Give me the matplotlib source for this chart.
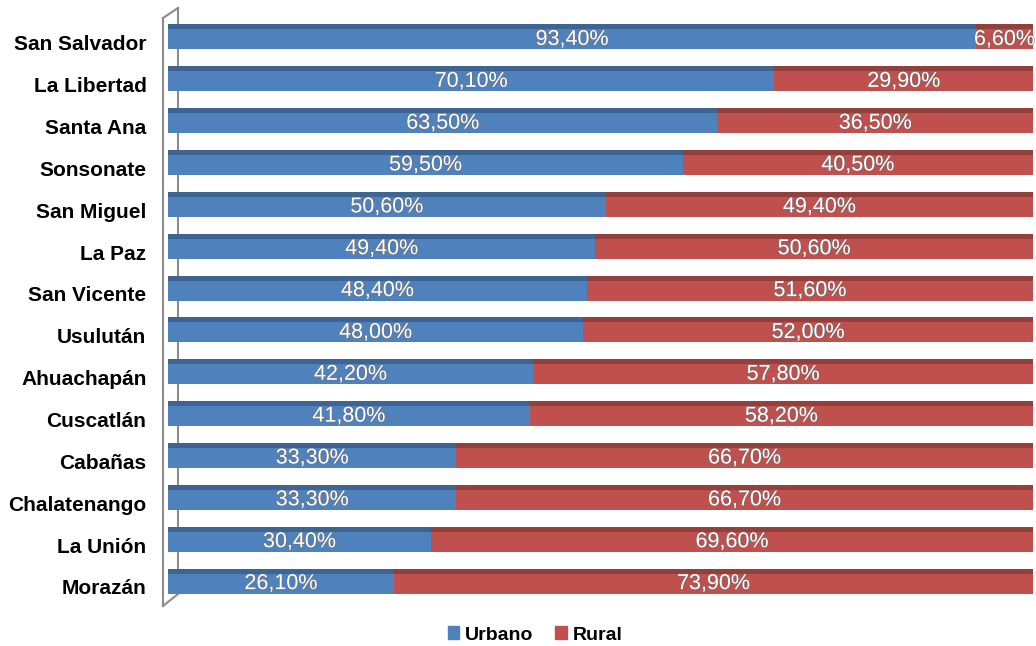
import matplotlib.pyplot as plt
import matplotlib.patheffects as pe
from matplotlib.lines import Line2D
from matplotlib.patches import Patch

plt.rcParams['font.family'] = ['Liberation Sans', 'DejaVu Sans']

departamentos = ['San Salvador', 'La Libertad', 'Santa Ana', 'Sonsonate', 'San Miguel',
                 'La Paz', 'San Vicente', 'Usulután', 'Ahuachapán', 'Cuscatlán',
                 'Cabañas', 'Chalatenango', 'La Unión', 'Morazán']
urbano = [93.4, 70.1, 63.5, 59.5, 50.6, 49.4, 48.4, 48.0, 42.2, 41.8, 33.3, 33.3, 30.4, 26.1]
rural = [6.6, 29.9, 36.5, 40.5, 49.4, 50.6, 51.6, 52.0, 57.8, 58.2, 66.7, 66.7, 69.6, 73.9]

azul, azul_osc = '#4F81BD', '#3C6594'
rojo, rojo_osc = '#C0504D', '#93403D'

W, H = 1036, 646
fig = plt.figure(figsize=(W / 100, H / 100), dpi=100)
ax = fig.add_axes([168 / W, 1 - 602 / H, 865 / W, 586 / H])

y = list(range(len(departamentos)))
h_total = 0.60
h_front = 0.48
y_front = [v + (h_total - h_front) / 2 for v in y]

# top face (darker) then front face
ax.barh(y, urbano, height=h_total, color=azul_osc, zorder=2)
ax.barh(y, rural, left=urbano, height=h_total, color=rojo_osc, zorder=2)
ax.barh(y_front, urbano, height=h_front, color=azul, zorder=3)
ax.barh(y_front, rural, left=urbano, height=h_front, color=rojo, zorder=3)

efecto = [pe.withStroke(linewidth=0.7, foreground='#707070')]
for i in range(len(departamentos)):
    u, r = urbano[i], rural[i]
    ax.text(u / 2, y_front[i], f'{u:.2f}%'.replace('.', ','), ha='center', va='center',
            color='white', fontsize=15.5, zorder=5, path_effects=efecto)
    ax.text(u + r / 2, y_front[i], f'{r:.2f}%'.replace('.', ','), ha='center', va='center',
            color='white', fontsize=15.5, zorder=5, path_effects=efecto)

ax.set_xlim(0, 100)
ax.set_ylim(len(departamentos) - 0.5, -0.5)
ax.set_yticks([v + 0.14 for v in y])
ax.set_yticklabels(departamentos, fontsize=15, fontweight='bold')
ax.tick_params(axis='y', length=0, pad=15.5)
ax.set_xticks([])
for s in ax.spines.values():
    s.set_visible(False)
ax.patch.set_alpha(0)

# 3D side wall
def px(xp, yp):
    return xp / W, 1 - yp / H

gris = '#8c8c8c'
for (x0, y0), (x1, y1) in [((163, 18), (163, 606)), ((163, 18), (178, 8)),
                           ((178, 8), (178, 594)), ((163, 606), (178, 594))]:
    a, b = px(x0, y0)
    c, d = px(x1, y1)
    fig.add_artist(Line2D([a, c], [b, d], color=gris, lw=1.5, zorder=0))

handles = [Patch(color=azul, label='Urbano'), Patch(color=rojo, label='Rural')]
fig.legend(handles=handles, loc='center', bbox_to_anchor=(535 / W, 1 - 635 / H), ncol=2,
           frameon=False, prop={'size': 14, 'weight': 'bold'}, handlelength=0.6,
           handleheight=0.6, handletextpad=0.3, columnspacing=1.1)

fig.savefig('out.png', dpi=100)
